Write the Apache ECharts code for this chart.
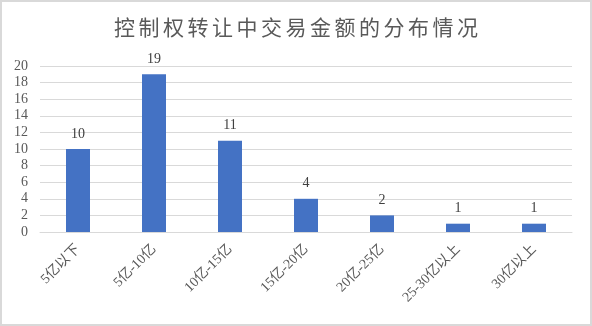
<!DOCTYPE html>
<html>
<head>
<meta charset="utf-8">
<script src="https://cdn.jsdelivr.net/npm/echarts@6/dist/echarts.min.js"></script>
<style>
  html, body { margin: 0; padding: 0; background: #fff; }
  #chart { width: 588px; height: 322px; border: 2px solid #d9d9d9; }
</style>
</head>
<body>
<div id="chart"></div>
<script>
// Deal size buckets and number of control-transfer transactions in each
const categories = ['5亿以下', '5亿-10亿', '10亿-15亿', '15亿-20亿', '20亿-25亿', '25-30亿以上', '30亿以上'];
const counts = [10, 19, 11, 4, 2, 1, 1];
const yTicks = { min: 0, max: 20, interval: 2 };
const titleText = '控制权转让中交易金额的分布情况';

const serif = '"Liberation Serif", "DejaVu Serif", "Noto Sans CJK SC", serif';
// spread the title glyphs out a little
const spacedTitle = titleText.split('').join('\u2006');

const chart = echarts.init(document.getElementById('chart'));
chart.setOption({
  animation: false,
  title: {
    text: spacedTitle,
    left: 'center',
    top: 12,
    textStyle: { fontFamily: '"DejaVu Sans", "Noto Sans CJK SC", sans-serif', fontSize: 21, fontWeight: 'normal', color: '#595959' }
  },
  grid: { left: 38, right: 18, top: 64, bottom: 92 },
  xAxis: {
    type: 'category',
    data: categories,
    axisLine: { lineStyle: { color: '#d9d9d9', width: 1 } },
    axisTick: { show: false },
    axisLabel: {
      rotate: 45, interval: 0, margin: 15,
      fontFamily: serif, fontSize: 14, color: '#595959'
    }
  },
  yAxis: {
    type: 'value',
    min: yTicks.min, max: yTicks.max, interval: yTicks.interval,
    axisLine: { show: false },
    axisTick: { show: false },
    splitLine: { lineStyle: { color: '#d9d9d9', width: 1 } },
    axisLabel: { fontFamily: serif, fontSize: 14, color: '#595959', margin: 12 }
  },
  series: [{
    type: 'bar',
    data: counts,
    barWidth: 24,
    itemStyle: { color: '#4472c4' },
    label: {
      show: true, position: 'top', distance: 8,
      fontFamily: serif, fontSize: 14, color: '#404040'
    }
  }]
});
</script>
</body>
</html>
